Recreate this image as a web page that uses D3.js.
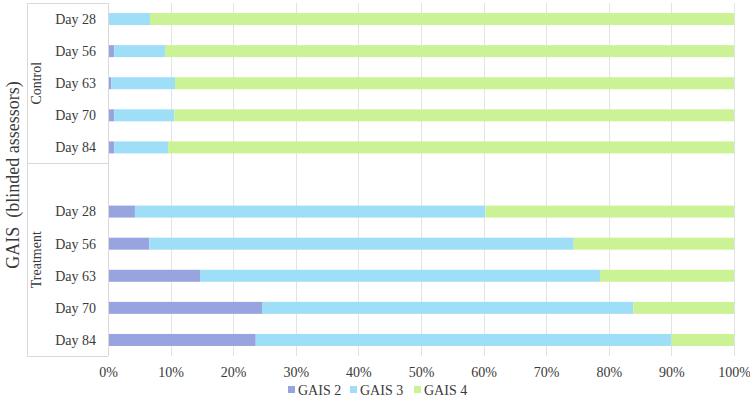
<!DOCTYPE html>
<html>
<head>
<meta charset="utf-8">
<script src="https://cdnjs.cloudflare.com/ajax/libs/d3/7.8.5/d3.min.js"></script>
<style>
  body { margin: 0; background: #fff; }
  #chart text { font-family: "Liberation Serif", Times, "DejaVu Serif", serif; fill: #3a3a3a; }
</style>
</head>
<body>
<svg id="chart" width="750" height="401"></svg>
<script>
// data (percent)
const groups = ['Control', 'Treatment'];
const days = ['Day 28', 'Day 56', 'Day 63', 'Day 70', 'Day 84'];
const seriesNames = ['GAIS 2', 'GAIS 3', 'GAIS 4'];
const colors = ['#97a4df', '#9edff7', '#ccf296'];

const controlGais2 = [0, 1.0, 0.5, 1.0, 1.0];
const controlGais3 = [6.7, 8.1, 10.2, 9.6, 8.6];
const controlGais4 = [93.3, 90.9, 89.3, 89.4, 90.4];

const treatGais2 = [4.3, 6.6, 14.7, 24.6, 23.6];
const treatGais3 = [56.0, 67.8, 63.9, 59.3, 66.4];
const treatGais4 = [39.7, 25.6, 21.4, 16.1, 10.0];

const xTicks = [0, 10, 20, 30, 40, 50, 60, 70, 80, 90, 100];

// rows: control days, one empty slot, treatment days
const rows = [];
days.forEach((d, i) => rows.push({ key: 'Control|' + d, day: d, 'GAIS 2': controlGais2[i], 'GAIS 3': controlGais3[i], 'GAIS 4': controlGais4[i] }));
rows.push({ key: 'Treatment|blank', day: '', 'GAIS 2': 0, 'GAIS 3': 0, 'GAIS 4': 0 });
days.forEach((d, i) => rows.push({ key: 'Treatment|' + d, day: d, 'GAIS 2': treatGais2[i], 'GAIS 3': treatGais3[i], 'GAIS 4': treatGais4[i] }));

const svg = d3.select('#chart');
const plotLeft = 108, plotRight = 734, plotTop = 3, plotBottom = 356;

const x = d3.scaleLinear().domain([0, 100]).range([plotLeft, plotRight]);
const y = d3.scaleBand()
            .domain(rows.map(r => r.key))
            .range([plotTop, plotBottom])
            .paddingInner(0.626)
            .paddingOuter(0.313);

// gridlines
svg.append('g')
   .selectAll('line')
   .data(xTicks.slice(1))
   .enter()
   .append('line')
     .attr('x1', d => Math.round(x(d)) + 0.5).attr('x2', d => Math.round(x(d)) + 0.5)
     .attr('y1', plotTop).attr('y2', plotBottom)
     .attr('stroke', '#e3e3e3')
     .attr('stroke-width', 1);

// stacked bars
const stack = d3.stack().keys(seriesNames)(rows);
svg.append('g')
   .selectAll('g')
   .data(stack)
   .enter()
   .append('g')
     .attr('fill', (d, i) => colors[i])
   .selectAll('rect')
   .data(d => d.filter(p => p[1] > p[0]))
   .enter()
   .append('rect')
     .attr('x', d => x(d[0]))
     .attr('y', d => y(d.data.key))
     .attr('width', d => x(d[1]) - x(d[0]))
     .attr('height', y.bandwidth());

// category axis box
const step = y.step();
const catG = svg.append('g').attr('stroke', '#d9d9d9').attr('stroke-width', 1);
catG.append('line').attr('x1', plotLeft + 0.5).attr('x2', plotLeft + 0.5).attr('y1', plotTop).attr('y2', plotBottom);
catG.append('line').attr('x1', 27.5).attr('x2', 27.5).attr('y1', plotTop).attr('y2', plotBottom);
const groupEdges = [plotTop, plotTop + 5 * step, plotBottom];
catG.selectAll('.hl')
    .data(groupEdges)
    .enter()
    .append('line')
      .attr('x1', 27).attr('x2', plotLeft)
      .attr('y1', d => Math.round(d) + 0.5).attr('y2', d => Math.round(d) + 0.5);

// day labels
svg.append('g')
   .selectAll('text')
   .data(rows.filter(r => r.day))
   .enter()
   .append('text')
     .attr('x', 96)
     .attr('y', d => y(d.key) + y.bandwidth() / 2)
     .attr('dy', '0.35em')
     .attr('text-anchor', 'end')
     .attr('font-size', 14)
     .text(d => d.day);

// group labels
const groupCenters = [(groupEdges[0] + groupEdges[1]) / 2, (groupEdges[1] + groupEdges[2]) / 2];
svg.append('g')
   .selectAll('text')
   .data(groups)
   .enter()
   .append('text')
     .attr('transform', (d, i) => `translate(41, ${groupCenters[i]}) rotate(-90)`)
     .attr('text-anchor', 'middle')
     .attr('font-size', 14)
     .text(d => d);

// axis title
svg.append('text')
   .attr('transform', 'translate(19, 175) rotate(-90)')
   .attr('text-anchor', 'middle')
   .attr('font-size', 18)
   .style('white-space', 'pre')
   .text('GAIS  (blinded assessors)');

// x axis tick labels
svg.append('g')
   .attr('transform', `translate(0, ${plotBottom})`)
   .call(d3.axisBottom(x).tickValues(xTicks).tickSize(0).tickPadding(11).tickFormat(d => d + '%'))
   .call(g => g.attr('font-family', null))
   .call(g => g.select('.domain').remove())
   .call(g => g.selectAll('text').attr('font-size', 14).attr('fill', null));

// legend
const legendX = [288, 350, 414];
const legend = svg.append('g')
                  .selectAll('g')
                  .data(seriesNames)
                  .enter()
                  .append('g')
                    .attr('transform', (d, i) => `translate(${legendX[i]}, 390)`);
legend.append('rect')
      .attr('x', 0).attr('y', -4)
      .attr('width', 7).attr('height', 7)
      .attr('fill', (d, i) => colors[i]);
legend.append('text')
      .attr('x', 10)
      .attr('dy', '0.35em')
      .attr('font-size', 14)
      .text(d => d);
</script>
</body>
</html>
